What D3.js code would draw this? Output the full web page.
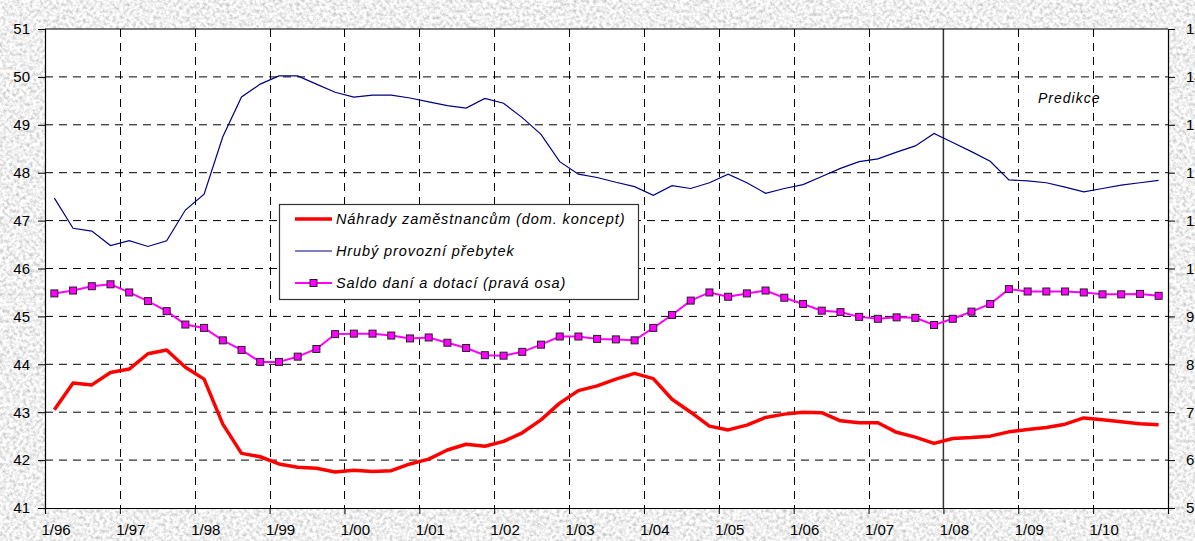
<!DOCTYPE html>
<html>
<head>
<meta charset="utf-8">
<script src="https://cdn.jsdelivr.net/npm/d3@7"></script>
<style>
  html, body { margin: 0; padding: 0; overflow: hidden; }
  svg { display: block; font-family: "Liberation Sans", Arial, sans-serif; }
</style>
</head>
<body>
<svg id="chart" width="1195" height="541"></svg>
<script>
/* Podíly na HDP - čtvrtletní řady */

// year tick labels (quarterly data, 1996Q1 .. 2010Q4)
const yearLabels = ["1/96","1/97","1/98","1/99","1/00","1/01","1/02","1/03",
                    "1/04","1/05","1/06","1/07","1/08","1/09","1/10"];
const leftTicks = [41,42,43,44,45,46,47,48,49,50,51];
const rightTicks = [5,6,7,8,9,10,11,12,13,14,15];

const seriesNames = ["Náhrady zaměstnancům (dom. koncept)",
                     "Hrubý provozní přebytek",
                     "Saldo daní a dotací (pravá osa)"];

// Náhrady zaměstnancům (left axis)
const nahrady = [43.05,43.61,43.57,43.83,43.90,44.22,44.30,43.94,43.69,42.75,
                 42.14,42.07,41.92,41.85,41.83,41.75,41.79,41.76,41.78,41.92,
                 42.02,42.21,42.33,42.29,42.39,42.57,42.84,43.19,43.45,43.55,
                 43.69,43.81,43.70,43.27,43.00,42.71,42.63,42.73,42.89,42.96,
                 43.00,42.99,42.82,42.78,42.78,42.58,42.48,42.35,42.45,42.47,
                 42.50,42.59,42.64,42.68,42.75,42.88,42.84,42.80,42.76,42.74];

// Hrubý provozní přebytek (left axis)
const prebytek = [47.47,46.84,46.78,46.48,46.58,46.46,46.58,47.22,47.55,48.75,
                  49.58,49.85,50.02,50.02,49.85,49.68,49.58,49.62,49.62,49.56,
                  49.48,49.40,49.35,49.55,49.45,49.15,48.80,48.23,47.97,47.90,
                  47.80,47.71,47.53,47.73,47.67,47.79,47.97,47.79,47.57,47.67,
                  47.75,47.92,48.09,48.23,48.29,48.43,48.56,48.82,48.63,48.44,
                  48.24,47.85,47.83,47.79,47.70,47.60,47.67,47.74,47.79,47.84];

// Saldo daní a dotací (right axis)
const saldo = [9.48,9.54,9.63,9.67,9.50,9.32,9.11,8.83,8.76,8.50,
               8.30,8.05,8.05,8.16,8.32,8.63,8.64,8.64,8.60,8.54,
               8.56,8.45,8.34,8.19,8.18,8.26,8.41,8.58,8.58,8.53,
               8.52,8.50,8.76,9.03,9.33,9.50,9.41,9.48,9.54,9.39,
               9.26,9.12,9.09,8.99,8.95,8.98,8.97,8.82,8.95,9.10,
               9.26,9.57,9.52,9.52,9.52,9.50,9.46,9.46,9.47,9.43];

const predictionStart = 48; // quarter index of 1/08

//* Chart code *//

const svg = d3.select("#chart"),
    margin = {top: 29, right: 27, bottom: 33, left: 45},
    width = 1195 - margin.left - margin.right,
    height = 541 - margin.top - margin.bottom;

// textured grey background
const defs = svg.append("defs");
const f = defs.append("filter").attr("id", "granite")
    .attr("x", 0).attr("y", 0).attr("width", "100%").attr("height", "100%");
f.append("feTurbulence").attr("type", "fractalNoise")
    .attr("baseFrequency", 0.3).attr("numOctaves", 4).attr("seed", 7);
f.append("feColorMatrix").attr("type", "matrix")
    .attr("values", "0.9 0 0 0 0.42  0.9 0 0 0 0.42  0.9 0 0 0 0.42  0 0 0 0 1");

svg.append("rect").attr("width", 1195).attr("height", 541).attr("fill", "#dcdcdc");
svg.append("rect").attr("width", 1195).attr("height", 541).attr("filter", "url(#granite)");

const g = svg.append("g")
    .attr("transform", "translate(" + margin.left + "," + margin.top + ")");

// scales
const x = d3.scaleLinear().domain([0, yearLabels.length * 4]).range([0, width]);
const yL = d3.scaleLinear().domain([41, 51]).range([height, 0]);
const yR = d3.scaleLinear().domain([5, 15]).range([height, 0]);

// plot area
g.append("rect").attr("width", width).attr("height", height).attr("fill", "#fff");

// grid
g.append("g").selectAll("line")
    .data(leftTicks.slice(1, -1))
    .enter().append("line")
    .attr("x1", 0).attr("x2", width)
    .attr("y1", d => yL(d)).attr("y2", d => yL(d))
    .attr("stroke", "#000").attr("stroke-width", 1)
    .attr("stroke-dasharray", "8,6");

g.append("g").selectAll("line")
    .data(d3.range(1, yearLabels.length))
    .enter().append("line")
    .attr("x1", d => Math.round(x(d * 4)) + 0.5).attr("x2", d => Math.round(x(d * 4)) + 0.5)
    .attr("y1", 0).attr("y2", height)
    .attr("stroke", "#000").attr("stroke-width", 1)
    .attr("stroke-dasharray", "8,6");

// prediction divider
g.append("line")
    .attr("x1", x(predictionStart)).attr("x2", x(predictionStart))
    .attr("y1", 0).attr("y2", height)
    .attr("stroke", "#333").attr("stroke-width", 1.5);

g.append("text")
    .attr("x", 993).attr("y", 74)
    .attr("font-size", "14px").attr("font-style", "italic")
    .attr("letter-spacing", "1px")
    .text("Predikce");

// axes
const xAxis = d3.axisBottom(x)
    .tickValues(d3.range(0, yearLabels.length * 4 + 1, 4))
    .tickSize(6).tickFormat("");
g.append("g").attr("transform", "translate(0," + height + ")").call(xAxis);

g.append("g").selectAll("text")
    .data(yearLabels)
    .enter().append("text")
    .attr("x", (d, i) => x(i * 4) + 11)
    .attr("y", height + 27)
    .attr("text-anchor", "middle")
    .attr("font-size", "15px")
    .text(d => d);

const yAxisL = d3.axisLeft(yL).tickValues(leftTicks).tickSize(7).tickPadding(8);
const yAxisR = d3.axisRight(yR).tickValues(rightTicks).tickSize(7).tickPadding(11);
g.append("g").attr("class", "y axis").call(yAxisL);
g.append("g").attr("class", "y axis").attr("transform", "translate(" + width + ",0)").call(yAxisR);

g.selectAll(".domain").attr("stroke", "#000").attr("stroke-width", 1.2);
g.selectAll(".tick line").attr("stroke", "#000");
g.selectAll(".tick text").attr("font-size", "15px").attr("fill", "#000")
    .attr("font-family", "'Liberation Sans', Arial, sans-serif");

// frame top
g.append("line").attr("x1", 0).attr("x2", width).attr("y1", 0).attr("y2", 0)
    .attr("stroke", "#000").attr("stroke-width", 1.2);

// lines
const xq = (d, i) => x(i + 0.5);

g.append("path").datum(prebytek)
    .attr("fill", "none").attr("stroke", "#000080").attr("stroke-width", 1.2)
    .attr("d", d3.line().x(xq).y(d => yL(d)));

g.append("path").datum(saldo)
    .attr("fill", "none").attr("stroke", "#ff00ff").attr("stroke-width", 2)
    .attr("d", d3.line().x(xq).y(d => yR(d)));

g.append("g").selectAll("rect")
    .data(saldo)
    .enter().append("rect")
    .attr("x", (d, i) => xq(d, i) - 3.5)
    .attr("y", d => yR(d) - 3.5)
    .attr("width", 7).attr("height", 7)
    .attr("fill", "#ff00ff").attr("stroke", "#222").attr("stroke-width", 1);

g.append("path").datum(nahrady)
    .attr("fill", "none").attr("stroke", "#ff0000").attr("stroke-width", 3.5)
    .attr("stroke-linejoin", "round")
    .attr("d", d3.line().x(xq).y(d => yL(d)));

//Legend
const legend = svg.append("g").attr("transform", "translate(279,204)");
legend.append("rect")
    .attr("x", 0.5).attr("y", 0.5).attr("width", 359).attr("height", 95)
    .attr("fill", "#fff").attr("stroke", "#333").attr("stroke-width", 1.2);

const items = legend.selectAll("g.item")
    .data(seriesNames)
    .enter().append("g").attr("class", "item")
    .attr("transform", (d, i) => "translate(0," + (15 + i * 32) + ")");

items.append("line")
    .attr("x1", 16).attr("x2", 53).attr("y1", 0).attr("y2", 0)
    .attr("stroke", (d, i) => ["#ff0000", "#000080", "#ff00ff"][i])
    .attr("stroke-width", (d, i) => [3.5, 1.2, 2][i]);

items.filter((d, i) => i == 2).append("rect")
    .attr("x", 31).attr("y", -3.5).attr("width", 7).attr("height", 7)
    .attr("fill", "#ff00ff").attr("stroke", "#222");

items.append("text")
    .attr("x", 57).attr("y", 0).attr("dy", "0.35em")
    .attr("font-size", "14.5px").attr("font-style", "italic")
    .attr("letter-spacing", "0.9px")
    .text(d => d);
</script>
</body>
</html>
